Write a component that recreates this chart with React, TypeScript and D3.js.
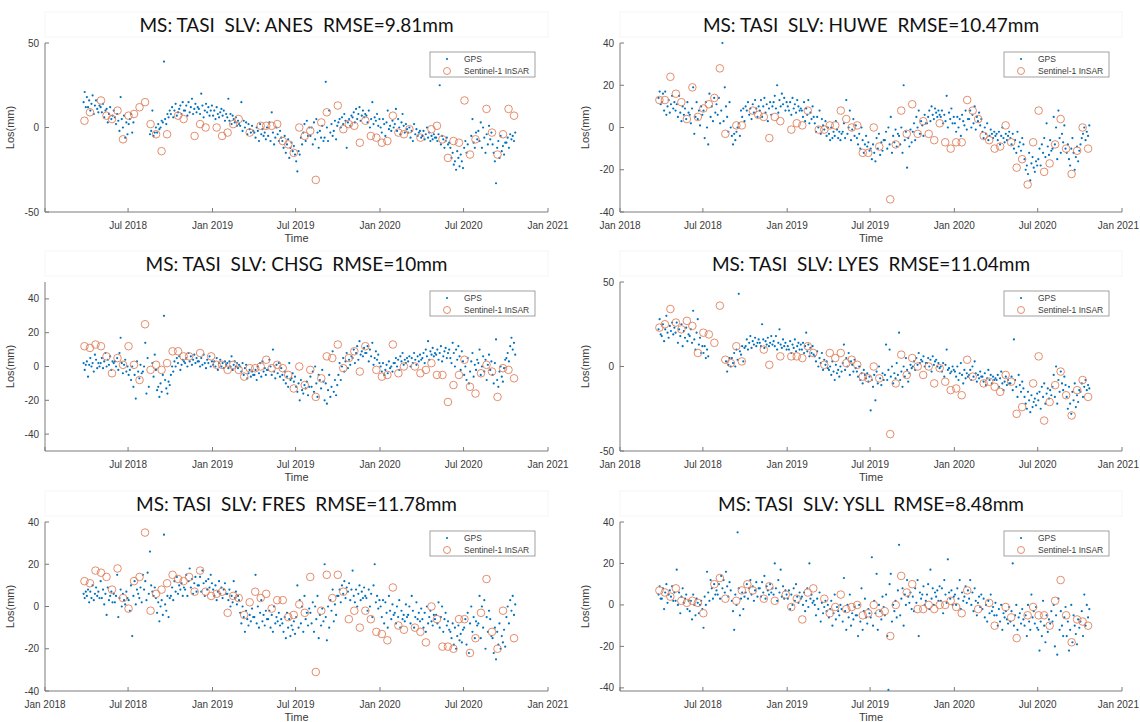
import React from "react";
import * as d3 from "d3";

// ---------------- axis / label data ----------------
const X_DOMAIN = ["2018-01-01", "2021-01-01"];
const X_TICK_DATES = ["2018-01-01", "2018-07-01", "2019-01-01", "2019-07-01", "2020-01-01", "2020-07-01", "2021-01-01"];
const X_TICK_LABELS = ["Jan 2018", "Jul 2018", "Jan 2019", "Jul 2019", "Jan 2020", "Jul 2020", "Jan 2021"];

const MASTER = "TASI";
const STATIONS = ["ANES", "HUWE", "CHSG", "LYES", "FRES", "YSLL"];
const RMSE = ["9.81", "10.47", "10", "11.04", "11.78", "8.48"];
const Y_DOMAINS = [[-50, 50], [-40, 40], [-50, 50], [-50, 50], [-40, 40], [-41.5, 40]];
const Y_TICKS = [[-50, 0, 50], [-40, -20, 0, 20, 40], [-40, -20, 0, 20, 40], [-50, 0, 50], [-40, -20, 0, 20, 40], [-40, -20, 0, 20, 40]];
const SHOW_FIRST_X_LABEL = [false, true, false, true, true, false];
const LEGEND_LABELS = ["GPS", "Sentinel-1 InSAR"];

// ---------------- GPS (daily solutions, read month by month) ----------------
const GPS_MONTHS = [
  "2018-03", "2018-04", "2018-05", "2018-06", "2018-07", "2018-08", "2018-09", "2018-10", "2018-11", "2018-12",
  "2019-01", "2019-02", "2019-03", "2019-04", "2019-05", "2019-06", "2019-07", "2019-08", "2019-09", "2019-10", "2019-11", "2019-12",
  "2020-01", "2020-02", "2020-03", "2020-04", "2020-05", "2020-06", "2020-07", "2020-08", "2020-09", "2020-10",
];
const GPS_FIRST_DAY = "2018-03-25";
const GPS_LAST_DAY = "2020-10-22";

type Row = (number | null)[];
const _ = null;

const GPS_ANES: Row[] = [
  [15, 21, 12],
  [18, 12, 16, 10, 14, 19, 8, 13, 16, 11, 9, 13],
  [12, 9, 14, 6, 10, 11, 3, 8, 12, 5, 7, 10],
  [6, 2, 8, 4, -2, 18, 5, 0, 7, -6, 3, -4],
  [2, 5, 8, -3, 3, _, _, _, _, _, _, _],
  [_, _, _, _, _, _, -4, -2, 10, -5, -3, 0],
  [-3, 2, -1, 0, 4, 3, 39, 5, 2, 8, 6, 10],
  [8, 12, 6, 10, 14, 7, 9, 11, 13, 8, 15, 10],
  [10, 13, 7, 15, 9, 12, 17, 8, 11, 14, 9, 12],
  [11, 8, 20, 13, 6, 10, 14, 9, 12, 7, 10, 13],
  [7, 10, 5, 12, 8, 6, 9, 11, 7, 10, 4, 8],
  [6, 17, 4, 8, 2, 7, 5, 3, 6, 1, 4, 2],
  [1, 15, -2, 4, 0, 3, -4, 2, -1, -3, 1, -2],
  [-3, -6, 0, -2, -8, 2, -4, -1, -5, -3, -7, 0],
  [-5, 3, -8, 9, -3, -10, -6, 0, -4, -8, -2, -6],
  [-8, -12, -5, -15, -10, -7, -18, -12, -9, -14, -11, -16],
  [-20, -26, -14, -16, -6, -10, -3, 2, -8, 4, -5, 0],
  [-5, 0, -10, 3, -7, 5, -3, -12, -2, -6, 1, -8],
  [-6, 27, 0, -8, 10, -3, 2, -5, -2, 4, -7, 1],
  [3, 5, 0, 6, 2, 8, 4, -12, 3, 5, 1, 7],
  [6, 9, 3, 11, 5, 8, 12, 4, 7, 10, 6, 8],
  [7, 3, 10, 0, 5, 15, 2, 6, 4, 8, 1, 5],
  [0, -3, 5, 2, -5, 3, 10, -1, 1, -2, 4, 0],
  [2, 11, -2, 5, 0, -4, 3, 8, 1, -3, 2, -1],
  [-3, 0, -6, -2, -8, 2, -4, -1, -5, -3, -2, -6],
  [-5, -2, -7, -4, 0, -6, -3, -8, -5, -7, -4, -6],
  [-6, -8, -4, 25, -10, -5, -7, -12, -8, -6, -10, -9],
  [-12, -18, -15, -22, -20, -25, -14, -18, -23, -16, -20, -24],
  [-12, -8, -15, -10, _, _, -5, 5, -9, -12, -3, -7],
  [-2, -8, 3, -12, 0, -6, -15, -4, -10, 1, -7, -3],
  [-10, -15, -20, -33, -12, -8, -18, -5, -14, -11, -16, -9],
  [-9, -6, -12, -4, -7, -5, -8, -3],
];

const GPS_HUWE: Row[] = [
  [14, 17, 11],
  [12, 16, 8, 17, 6, 10, 13, 7, 11, 15, 9, 12],
  [8, 11, 5, 15, 7, 3, 10, 6, 9, 4, 12, 7],
  [6, 2, 9, 19, -3, 5, 12, 4, 8, 1, 10, 6],
  [8, -5, 12, 0, -8, 16, 5, 10, 3, 14, 7, 11],
  [6, 14, 2, 8, 40, 3, 19, 10, 5, -2, 12, 0],
  [-4, -8, -3, -6, -2, 0, 2, -4, 8, 5, 9, 3],
  [10, 8, 12, 6, 9, 4, 11, 7, 13, 9, 5, 10],
  [8, 13, 5, 10, 14, 7, 11, 3, 9, 12, 6, 10],
  [12, 15, 9, 20, 7, 13, 10, 16, 11, 14, 8, 12],
  [10, 8, 12, 6, 14, 9, 11, 7, 13, 10, 8, 9],
  [8, 5, 12, 3, 9, 6, 13, 2, 7, 4, 10, 5],
  [2, -2, 5, 0, 8, -3, 4, 1, -1, 3, -4, 0],
  [-3, -6, 0, -5, -2, -4, 3, -1, -5, -2, -6, -3],
  [-2, 2, -5, 13, -3, 0, 8, -6, -1, 4, -4, 1],
  [-5, -8, -3, -10, 0, -6, -12, -8, -4, -9, -7, -11],
  [-10, -15, -8, -12, -16, -5, -10, -3, -13, -7, -11, -6],
  [-6, -2, -10, 0, -8, 5, -12, -4, -7, -1, -9, -3],
  [-4, -8, 0, -12, 20, -6, -2, -19, -5, -9, -1, -7],
  [-2, 2, -6, 5, 0, 8, -3, 3, 1, -4, 6, 2],
  [2, 5, 8, 3, 10, 6, 4, 9, 7, 5, 8, 6],
  [5, 8, 2, 6, 3, 15, 0, 7, 4, 9, 2, 5],
  [2, -2, 5, 0, 4, -4, 6, 3, 1, 8, -1, 4],
  [4, 8, 0, 6, 2, 10, -1, 5, 3, 7, 1, 4],
  [-2, -5, 0, -3, 2, -6, -4, -1, -3, -5, -2, -4],
  [-3, -6, -2, -8, -4, 0, -5, -7, -3, -6, -4, -2],
  [-5, -8, -3, -10, -6, -12, -2, -9, -7, -11, -5, -8],
  [-15, -20, -18, -22, -12, -25, -17, -14, -19, -21, -16, -18],
  [-15, -10, -18, -8, -12, -5, -14, 2, -9, -13, -6, -11],
  [-10, 5, -8, 0, -15, 8, -5, -12, -3, -7, 1, -10],
  [-12, -8, -15, -18, -10, -5, -12, -20, -14, -9, -16, -11],
  [-8, -5, -3, 0, -6, -2, -4, 1],
];

const GPS_CHSG: Row[] = [
  [2, -2, 1],
  [3, -6, 1, 5, 0, 2, -3, 7, 4, -1, 2, 0],
  [2, 5, -1, 3, 8, 0, 4, 1, 6, -2, 3, 2],
  [3, 0, 5, -2, 8, 17, 2, -4, 1, 4, -3, 0],
  [-5, -2, -8, 0, -12, -5, -19, 3, -3, -7, 1, -4],
  [-3, 0, 14, -16, 5, -12, _, _, 2, -6, 7, -2],
  [-14, -12, -18, -10, -15, -5, 30, -8, -13, -16, -9, -11],
  [-5, 0, -3, 3, 0, 5, 2, 6, -2, 1, 4, 3],
  [2, 5, 0, 8, 3, 6, 1, 4, 7, 2, 5, 3],
  [3, 0, 5, 1, 7, 2, -1, 4, 2, 6, 0, 3],
  [1, 3, 0, 5, -2, 2, 4, 0, 2, -1, 3, 1],
  [2, -1, 3, 0, 6, -2, 1, 3, 0, 2, -1, 1],
  [0, -3, 2, -5, -1, 1, -7, -4, -2, -6, -3, -5],
  [-5, -2, -8, 0, -4, 2, -6, 3, -3, -1, -5, -2],
  [-2, 4, 0, -5, 10, -3, -7, 1, -4, 2, -6, -1],
  [-5, -8, -3, -10, -6, -12, 2, -8, -7, -4, -9, -6],
  [-12, -15, -10, -20, -8, -14, -16, -11, -13, -9, -17, -12],
  [-6, -12, -3, -15, 0, -10, -18, -5, -8, -13, -2, -9],
  [-20, -10, -22, -14, -5, -18, -12, 9, -15, -8, -17, -11],
  [-5, 2, -8, 0, 5, -3, 3, 8, -1, 4, 1, 6],
  [5, 10, 2, 8, 12, 4, 15, 7, 9, 6, 11, 8],
  [8, 12, 3, 10, 6, 14, 1, 5, 9, 4, 7, 2],
  [0, -3, 2, -5, -2, 1, -4, 3, -1, 0, -3, 2],
  [2, 5, 0, 4, -2, 6, 3, 8, 1, 4, 2, 5],
  [3, 6, 0, 5, 2, 8, 4, 1, 6, 3, 7, 4],
  [5, 8, 2, 10, 6, 15, 4, 9, 7, 11, 6, 8],
  [7, 10, 4, 8, 12, 3, 6, 9, 11, 5, 8, 10],
  [5, 2, 14, 8, 0, 10, 4, 12, 6, -2, 9, 3],
  [-5, 0, -8, 5, -10, -3, 3, 8, -6, 1, -2, 4],
  [2, 10, -5, 0, 6, -3, 4, -8, 1, 7, -2, 3],
  [-5, -10, 2, 16, -8, -12, -3, 0, -6, -9, -1, 4],
  [5, 8, 3, 12, 17, 10, 14, 7],
];

const GPS_LYES: Row[] = [
  [22, 28, 19],
  [18, 25, 15, 22, 30, 20, 17, 24, 21, 26, 19, 23],
  [20, 26, 14, 22, 18, 25, 12, 21, 17, 23, 15, 19],
  [18, 22, 14, 33, 16, 10, 20, 28, 13, 17, 8, 12],
  [8, 12, 5, 10, 6, _, _, _, _, _, _, _],
  [_, _, _, _, _, _, _, 3, -3, 1, 5, 0],
  [5, 2, 8, 0, 10, 4, 43, 9, 7, 12, 3, 11],
  [12, 16, 10, 14, 18, 11, 15, 13, 17, 12, 14, 16],
  [14, 12, 25, 16, 11, 15, 13, 17, 12, 14, 18, 13],
  [15, 12, 18, 10, 14, 22, 13, 11, 16, 12, 14, 10],
  [12, 10, 15, 8, 13, 11, 16, 9, 12, 14, 10, 13],
  [10, 14, 8, 12, 20, 9, 13, 6, 11, 8, 12, 7],
  [6, 3, 9, 0, 5, 2, 8, -2, 4, 1, 3, -1],
  [-2, 0, -5, 3, -3, -8, 1, -4, -2, -6, 0, -3],
  [2, 13, -2, 5, 0, 8, -5, 3, 1, -3, 4, -1],
  [-3, -6, 0, -8, -4, -10, -2, -5, -7, -4, -9, -6],
  [-26, -8, -12, -5, -20, -3, -10, 0, -7, -11, -4, -8],
  [-5, 13, -8, -2, 10, -6, 0, -10, -4, -7, 2, -5],
  [20, -8, -3, -12, 0, -6, 5, -2, -9, -4, 1, -1],
  [0, 3, -2, 5, 1, 8, 2, 4, 3, 6, 0, 2],
  [2, 5, 0, 4, -3, 6, 1, 3, 4, 0, 2, -1],
  [0, -3, 2, -6, 1, 10, -2, -1, -4, -3, 0, -2],
  [-3, -6, 0, -8, -4, 2, -5, -10, -2, -7, -4, -6],
  [-5, -2, -8, 0, -6, 3, -4, -9, -5, -7, -3, -6],
  [-6, -9, -4, -11, -7, -2, -8, -5, -10, -6, -8, -7],
  [-8, -5, -12, -7, -3, -10, -14, -9, -6, -11, -8, -10],
  [-10, -6, -14, 16, -8, -12, -18, -5, -11, -15, -9, -13],
  [-18, -22, -25, -15, -20, -27, -17, -24, -21, -19, -23, -16],
  [-20, -15, -25, -12, -18, -10, -22, -16, -13, -19, -14, -17],
  [-12, -5, -18, 0, -22, -8, -15, -3, -10, -14, -6, -11],
  [-18, -25, -12, -22, -28, -15, -20, -10, -24, -17, -21, -14],
  [-15, -10, -18, -12, -8, -14, -11, -13],
];

const GPS_FRES: Row[] = [
  [6, 4, 7],
  [5, 8, 2, 7, 4, 10, 3, 6, 9, 5, 7, 4],
  [12, 4, 8, 1, 6, -4, 9, 3, 5, 7, 2, 6],
  [2, 5, 15, -5, 4, 8, 0, 6, 3, 1, 7, 4],
  [3, -2, 10, -14, 5, 12, 1, 8, 6, 4, 9, 2],
  [15, 8, 12, 3, 16, 6, 26, 10, 7, 5, 9, 4],
  [-3, 2, -7, 0, 3, -4, 34, 1, -2, 5, -5, 4],
  [5, 9, 3, 12, 7, 14, 6, 10, 8, 11, 5, 9],
  [8, 15, 5, 12, 18, 9, 13, 6, 11, 14, 7, 10],
  [10, 14, 7, 17, 11, 5, 12, 8, 13, 9, 15, 11],
  [8, 5, 10, 3, 7, 12, 6, 9, 4, 8, 11, 6],
  [6, 3, 8, 0, 5, 2, 12, 4, 7, 1, 5, 3],
  [-3, -8, 0, -5, -12, -2, -6, -9, -4, -7, -1, -5],
  [-5, 15, -8, 0, -10, -3, 3, -7, -4, -9, -2, -6],
  [-6, -2, -10, -4, -12, 0, -8, -5, -7, -3, -9, -6],
  [-8, -12, -5, -15, -3, -10, -6, -14, -9, -11, -7, -13],
  [-5, 10, -10, 3, -8, 0, -12, 5, -6, -3, -9, -1],
  [-3, -8, 2, -12, 0, -6, 5, -15, -4, -9, -1, -7],
  [20, -5, -16, 0, -10, 3, -2, 8, -7, 1, -4, 5],
  [5, 8, 2, 10, 6, 12, 4, 9, 7, 11, 3, 8],
  [17, 5, 2, 8, 0, 6, 10, 3, 7, 4, 9, 5],
  [4, -2, 8, 0, 6, -5, 10, 20, 2, 5, -1, 3],
  [0, -5, 3, -8, 2, -3, -10, 5, -2, -6, 1, -4],
  [-3, -8, 0, -5, 3, -10, -2, -6, -4, -7, 1, -5],
  [-4, 0, -8, 5, -2, -10, -5, 2, -6, -3, -7, -1],
  [-6, -10, -3, -12, 0, -8, -5, -2, -7, -9, -4, -6],
  [-4, -8, 2, -10, -5, 0, -12, -6, -3, -9, -7, -11],
  [-12, -15, -8, -18, -10, -20, -14, -9, -16, -13, -17, -11],
  [-10, -6, -18, -3, -22, -8, 0, -12, -5, -15, -7, -9],
  [-8, 5, -15, 0, -10, 3, -20, -5, -12, -2, -6, -14],
  [-15, -22, -10, -25, -12, -18, -8, -20, -14, -17, -11, -19],
  [-5, 0, -8, 3, -2, 5, -4, 1],
];

const GPS_YSLL: Row[] = [
  [5, 9, 3],
  [3, 8, -2, 6, 10, 1, 5, 7, 4, 9, 2, 6],
  [2, 17, 0, 6, -4, 4, 8, 1, 3, 5, -2, 2],
  [-3, 2, -7, 5, 0, -5, 3, 1, -4, 0, 2, -2],
  [-11, 4, 0, 16, 6, 2, 12, 8, 3, 10, 5, 7],
  [5, 10, 3, 14, 8, 12, 6, 16, 9, 4, 11, 7],
  [2, -3, -12, 5, 0, 35, 8, -5, 3, 6, -2, 4],
  [6, 10, 3, 8, 12, 5, 9, 2, 7, 11, 4, 8],
  [8, 4, 11, 6, 14, 3, 9, 7, 5, 10, 6, 8],
  [5, 20, 8, 2, 12, 6, 17, 4, 9, 3, 7, 5],
  [3, 7, -2, 5, 0, 8, 2, 10, 4, 1, 6, 3],
  [4, 0, 6, -3, 2, 8, -1, 20, 3, 5, 1, 2],
  [0, -5, 3, -2, 6, -8, 1, -4, -1, 2, -3, 0],
  [-6, -2, 2, -10, -4, 5, -7, -1, -3, -5, 0, -2],
  [-8, 13, -3, -12, 0, -6, 5, -10, -4, -7, -1, -5],
  [-5, -15, 0, -8, 8, -12, -3, 3, -6, -9, -2, -4],
  [-6, 23, -10, 2, -4, 15, -12, 0, -3, -7, 4, -1],
  [-5, 5, -15, -41, 10, 15, -8, 0, -3, 2, -6, 7],
  [29, -5, 3, 8, -10, 5, 0, 12, 4, 1, 6, -2],
  [4, -3, 8, 1, 12, -15, 6, 3, 5, 9, 0, 2],
  [5, 10, -2, 17, 3, 8, 0, 6, 4, 7, 2, 9],
  [2, 8, -4, 12, 5, 1, 22, 6, 3, 7, 0, 4],
  [5, 0, 8, 3, 12, -2, 6, 2, 4, 9, 1, 7],
  [3, 12, 0, 6, -3, 8, 2, -5, 1, 4, -1, 5],
  [-2, 3, -6, 0, -8, 2, -4, 5, -3, -1, -5, 1],
  [-5, -10, -2, -8, 0, -12, -4, -6, -3, -7, -9, -1],
  [-8, -3, 20, -10, -5, 0, -12, -6, -4, -9, -2, -7],
  [-10, -5, -15, 0, -8, -12, 5, -6, -3, -9, -1, -11],
  [-12, -22, -8, -15, 2, -10, -18, -5, -13, -7, -9, -3],
  [-8, 0, -20, -5, -24, 3, -12, -3, -10, -15, -6, -1],
  [-15, -8, -22, -12, 0, -18, -5, -10, -14, -19, -7, -11],
  [-8, -3, -15, 5, -10, 0, -6, -2],
];

// ---------------- Sentinel-1 InSAR (12-day repeat) ----------------
const INSAR_FIRST_DATE = "2018-03-28";
const INSAR_REPEAT_DAYS = 12;

const INSAR_ANES: Row = [4, 9, _, 16, 7, 5, 10, -7, 7, 8, 12, 15, 2, -4, -14, -4, _, 7, 5, _, -5, 2, 0, _, 0, -5, -3, 2, 5, _,
  -3, _, 1, 1, 1, 2, -8, -10, -15, 0, -5, -2, -31, 3, 9, _, 13, -1, 2, 1, -9, 4, -5, -6, -9, -8, 7, -3, -4, -1,
  _, -6, _, -1, 1, -7, -18, -8, -9, 16, -16, -7, _, 11, -3, -16, -4, 11, 7];
const INSAR_HUWE: Row = [13, 13, 24, 16, 12, 4, 19, 5, 9, 11, 14, 28, -3, _, 1, 1, _, 8, 6, 5, -5, 5, 3, _, -1, 2, 1, 8, _, -1,
  -1, 1, 1, 8, 4, 0, 1, -12, -12, 0, -9, _, -34, -8, 8, -3, 11, -3, 3, -3, -6, 2, -7, -10, -7, -7, 13, 8, 4, -4,
  -6, -10, -9, 1, -7, -19, -15, -27, -7, 8, -21, -17, -8, 4, -10, -22, -11, 0, -10];
const INSAR_CHSG: Row = [12, 11, 13, 12, 6, -4, 5, 1, 12, 1, -8, 25, -2, 1, -2, 2, 9, 9, 6, 6, _, 8, _, 6, 1, 1, -2, 1, -2, -6,
  -1, -1, 0, 4, -1, 1, -1, -5, -13, 0, -11, -2, -18, -7, 6, 5, 13, -1, 5, 9, -3, 12, _, -2, -6, -5, 13, -4, 0, _,
  0, -4, -2, 2, -5, -5, -21, -11, -5, 4, -12, -16, -4, 1, -3, -18, -1, -2, -7];
const INSAR_LYES: Row = [23, 25, 34, 26, 22, 27, 24, 8, 20, 19, 14, 36, 4, 2, 12, 3, _, _, _, 10, 1, _, 6, _, 6, 6, 5, 12, 8, _,
  1, 8, 5, 8, 2, 4, 1, -6, -7, 0, -7, _, -40, -10, 7, -5, 5, 0, -5, 0, -10, -1, -9, -14, -13, -17, 4, -6, _, -10,
  -9, -12, -15, -5, -9, -28, -24, _, -10, 6, -32, -21, -11, -3, -17, -29, -14, -8, -18];
const INSAR_FRES: Row = [12, 11, 17, 16, 14, 8, 18, 4, -1, 12, 14, 35, -2, 6, 8, 11, 15, 13, 12, 14, 7, 17, 7, 5, 6, 7, -3, 5, 4, -4,
  2, 7, 4, 6, -1, 3, 3, -5, -4, 1, -3, 14, -31, -2, 15, 4, 15, 7, -6, -2, -10, -2, -6, -12, -13, -16, 9, -9, -11, _,
  -10, -12, -17, 0, -6, -19, -19, -20, -6, -6, -22, -15, -3, 13, -12, -20, -2, _, -15];
const INSAR_YSLL: Row = [7, 6, 4, 8, 2, 1, 2, 1, -4, _, 10, 13, 3, _, 2, 7, 10, 7, _, 3, 9, 2, _, 5, -1, 3, -7, 6, 8, _,
  3, -4, -1, 5, -2, -1, 0, -5, -4, 0, -4, -3, -15, 0, 14, 6, 10, -2, -2, 0, -2, 0, 0, 2, -1, -4, 7, _, -2, _,
  1, -10, _, -1, -6, -16, _, -5, -1, -5, -5, -10, 2, 12, -5, -18, -7, -8, -10];

const GPS_SERIES = [GPS_ANES, GPS_HUWE, GPS_CHSG, GPS_LYES, GPS_FRES, GPS_YSLL];
const INSAR_SERIES = [INSAR_ANES, INSAR_HUWE, INSAR_CHSG, INSAR_LYES, INSAR_FRES, INSAR_YSLL];

// ---------------- layout ----------------
const W = 1140;
const H = 722;
const COL_LEFT = [45, 620];
const COL_RIGHT = [548, 1122];
const ROW_TOP = [43, 282, 522];
const PLOT_H = 169;

const GPS_COLOR = "#0072BD";
const INSAR_COLOR = "#E0805C";
const AXIS_COLOR = "#7a7a7a";
const TEXT_COLOR = "#3a3a3a";
const FONT = "'Liberation Sans', Arial, sans-serif";
const TITLE_FONT = "Lato, 'Open Sans', sans-serif";

const parseDay = d3.utcParse("%Y-%m-%d");
const parseMonth = d3.utcParse("%Y-%m");

type Pt = { t: Date; v: number };

function gpsPoints(rows: Row[]): Pt[] {
  const first = +(parseDay(GPS_FIRST_DAY) as Date);
  const last = +d3.utcDay.offset(parseDay(GPS_LAST_DAY) as Date, 1);
  const pts: Pt[] = [];
  rows.forEach((vals, m) => {
    const ms = parseMonth(GPS_MONTHS[m]) as Date;
    const me = d3.utcMonth.offset(ms, 1);
    const s = Math.max(+ms, first);
    const e = Math.min(+me, last);
    vals.forEach((v, j) => {
      if (v == null) return;
      pts.push({ t: new Date(s + ((j + 0.5) * (e - s)) / vals.length), v });
    });
  });
  return pts;
}

function insarPoints(vals: Row): Pt[] {
  const first = parseDay(INSAR_FIRST_DATE) as Date;
  const pts: Pt[] = [];
  vals.forEach((v, k) => {
    if (v == null) return;
    pts.push({ t: d3.utcDay.offset(first, k * INSAR_REPEAT_DAYS), v });
  });
  return pts;
}

function Panel({ idx }: { idx: number }) {
  const col = idx % 2;
  const row = Math.floor(idx / 2);
  const left = COL_LEFT[col];
  const right = COL_RIGHT[col];
  const top = ROW_TOP[row];
  const bottom = top + PLOT_H;

  const x = d3
    .scaleUtc()
    .domain(X_DOMAIN.map((d) => parseDay(d) as Date))
    .range([left, right]);
  const y = d3.scaleLinear().domain(Y_DOMAINS[idx]).range([bottom, top]);

  const gps = gpsPoints(GPS_SERIES[idx]);
  const insar = insarPoints(INSAR_SERIES[idx]);
  const cx = (left + right) / 2;
  const title = `MS: ${MASTER}  SLV: ${STATIONS[idx]}  RMSE=${RMSE[idx]}mm`;

  const lgX = right - 118;
  const lgY = top + 9;

  return (
    <g>
      {/* title box */}
      <rect x={left} y={top - 31} width={right - left} height={25} fill="#fff" stroke="#f5f5f5" strokeWidth={1} />
      <text
        x={cx}
        y={top - 11}
        textAnchor="middle"
        fontFamily={TITLE_FONT}
        fontSize={19}
        fill="#111"
        style={{ whiteSpace: "pre" }}
      >
        {title}
      </text>

      {/* GPS */}
      <g fill={GPS_COLOR}>
        {gps.map((p, i) => (
          <circle key={i} cx={x(p.t)} cy={y(p.v)} r={1.1} />
        ))}
      </g>
      {/* InSAR */}
      <g fill="none" stroke={INSAR_COLOR} strokeWidth={0.9}>
        {insar.map((p, i) => (
          <circle key={i} cx={x(p.t)} cy={y(p.v)} r={3.8} />
        ))}
      </g>

      {/* axes */}
      <line x1={left} x2={right} y1={bottom} y2={bottom} stroke={AXIS_COLOR} strokeWidth={1} />
      <line x1={left} x2={left} y1={top} y2={bottom} stroke={AXIS_COLOR} strokeWidth={1} />
      {X_TICK_DATES.map((d, i) => {
        const xx = x(parseDay(d) as Date);
        const last = i === X_TICK_DATES.length - 1 && col === 1;
        return (
          <g key={d}>
            <line x1={xx} x2={xx} y1={bottom} y2={bottom - 4} stroke={AXIS_COLOR} />
            {(i > 0 || SHOW_FIRST_X_LABEL[idx]) && (
              <text
                x={last ? W - 1 : xx}
                y={bottom + 17}
                textAnchor={last ? "end" : "middle"}
                fontFamily={FONT}
                fontSize={10}
                fill={TEXT_COLOR}
              >
                {X_TICK_LABELS[i]}
              </text>
            )}
          </g>
        );
      })}
      {Y_TICKS[idx].map((t) => (
        <g key={t}>
          <line x1={left} x2={left + 4} y1={y(t)} y2={y(t)} stroke={AXIS_COLOR} />
          <text x={left - 6} y={y(t) + 3.5} textAnchor="end" fontFamily={FONT} fontSize={10} fill={TEXT_COLOR}>
            {t}
          </text>
        </g>
      ))}
      <text
        x={left - 31}
        y={(top + bottom) / 2}
        transform={`rotate(-90 ${left - 31} ${(top + bottom) / 2})`}
        textAnchor="middle"
        fontFamily={FONT}
        fontSize={11}
        fill={TEXT_COLOR}
      >
        Los(mm)
      </text>
      <text x={cx} y={bottom + 30} textAnchor="middle" fontFamily={FONT} fontSize={11} fill={TEXT_COLOR}>
        Time
      </text>

      {/* legend */}
      <rect x={lgX} y={lgY} width={105} height={25} fill="#fff" stroke="#8a8a8a" strokeWidth={0.8} />
      <circle cx={lgX + 17} cy={lgY + 7} r={1.1} fill={GPS_COLOR} />
      <text x={lgX + 34} y={lgY + 10} fontFamily={FONT} fontSize={8.5} fill={TEXT_COLOR}>
        {LEGEND_LABELS[0]}
      </text>
      <circle cx={lgX + 17} cy={lgY + 19} r={3.5} fill="none" stroke={INSAR_COLOR} strokeWidth={0.9} />
      <text x={lgX + 34} y={lgY + 22} fontFamily={FONT} fontSize={8.5} fill={TEXT_COLOR}>
        {LEGEND_LABELS[1]}
      </text>
    </g>
  );
}

export default function App() {
  return (
    <svg
      width={W}
      height={H}
      viewBox={`0 0 ${W} ${H}`}
      style={{ position: "absolute", left: 0, top: 0, background: "#fff" }}
    >
      <rect x={0} y={0} width={W} height={H} fill="#fff" />
      {STATIONS.map((s, i) => (
        <Panel key={s} idx={i} />
      ))}
    </svg>
  );
}
